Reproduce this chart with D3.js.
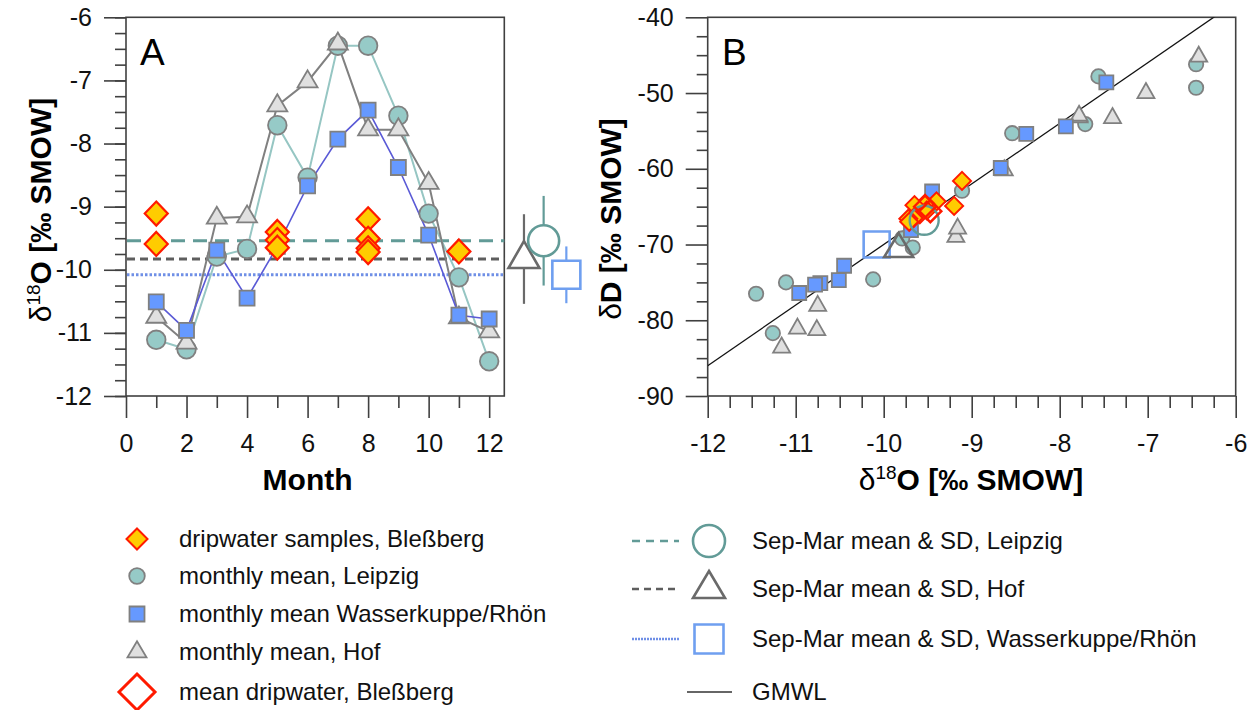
<!DOCTYPE html>
<html><head><meta charset="utf-8">
<script src="https://cdnjs.cloudflare.com/ajax/libs/d3/7.8.5/d3.min.js"></script>
<style>body{margin:0;background:#fff;} svg{display:block;font-family:"Liberation Sans",Arial,sans-serif;}</style>
</head><body><svg id="c" width="1258" height="710"></svg>
<script>
// ---------- data ----------
const months = [1,2,3,4,5,6,7,8,9,10,11,12];
const leipzigO = [-11.11,-11.26,-9.79,-9.67,-7.71,-8.54,-6.45,-6.45,-7.56,-9.11,-10.12,-11.45];
const leipzigD = [-75.0,-81.7,-69.2,-70.4,-54.1,-55.3,-46.2,-49.3,-47.8,-62.9,-74.6,-76.5];
const hofO = [-10.75,-11.16,-9.18,-9.16,-7.40,-7.02,-6.42,-7.78,-7.78,-8.63,-10.76,-10.98];
const hofD = [-78.1,-83.6,-69.0,-67.9,-53.3,-50.0,-45.2,-53.2,-53.0,-60.2,-81.3,-81.1];
const wasserO = [-10.51,-10.96,-9.69,-10.45,-9.63,-8.67,-7.93,-7.47,-8.38,-9.45,-10.72,-10.78];
const wasserD = [-74.7,-76.4,-68.1,-72.8,-65.7,-59.9,-54.4,-48.6,-55.4,-63.0,-75.1,-75.3];
const dripMonth = [1,1,5,5,5,8,8,8,8,11];
const dripO = [-9.11,-9.59,-9.40,-9.53,-9.65,-9.20,-9.51,-9.66,-9.72,-9.71];
const dripD = [-61.6,-66.0,-64.3,-64.6,-64.8,-64.9,-65.5,-66.5,-66.6,-67.0];
const meanDripO = [-9.53,-9.47];
const meanDripD = [-65.0,-65.6];
const sepMarStations = ["Leipzig","Hof","Wasserkuppe/Rhön"];
const sepMarMeanO = [-9.54,-9.83,-10.08];
const sepMarSdO = [0.71,0.71,0.45];
const sepMarMeanD = [-66.8,-70.6,-70.0];
const gmwlO = [-12,-6];             // GMWL: δD = 8·δ18O + 10
const gmwlD = gmwlO.map(o => 8*o + 10);
const monthTicks = [0,2,4,6,8,10,12];
const oTicksA = [-12,-11,-10,-9,-8,-7,-6];
const oTicksB = [-12,-11,-10,-9,-8,-7,-6];
const dTicksB = [-90,-80,-70,-60,-50,-40];
const legendLeft = ["dripwater samples, Bleßberg","monthly mean, Leipzig","monthly mean Wasserkuppe/Rhön","monthly mean, Hof","mean dripwater, Bleßberg"];
const legendRight = ["Sep-Mar mean & SD, Leipzig","Sep-Mar mean & SD, Hof","Sep-Mar mean & SD, Wasserkuppe/Rhön","GMWL"];

// ---------- styles ----------
const C = {
  leipFill:"#96cac7", leipLine:"#96c6c3", leipMean:"#629b97",
  hofFill:"#e0e0e0", hofLine:"#808080", hofMean:"#5e5e5e",
  wasFill:"#6699ff", wasLine:"#5a5ad6", wasMean:"#6f8fe6", wasBig:"#6f9ff0",
  mkStroke:"#808080", dripFill:"#ffcc00", dripStroke:"#ff1a00", axis:"#404040"
};

const svg = d3.select("#c");

function diamondPath(w,h){return `M0,${-h/2}L${w/2},0L0,${h/2}L${-w/2},0Z`;}
function triPath(w,h){return `M0,${-2*h/3}L${w/2},${h/3}L${-w/2},${h/3}Z`;}
function circPath(r){return d3.symbol(d3.symbolCircle, Math.PI*r*r)();}
function sqPath(s){return `M${-s/2},${-s/2}h${s}v${s}h${-s}Z`;}

// ---------- scales ----------
const xA = d3.scaleLinear([0,12.5],[126,504.3]);
const yA = d3.scaleLinear([-12,-6],[396,17.3]);
const xB = d3.scaleLinear([-12,-6],[707.7,1235.7]);
const yB = d3.scaleLinear([-90,-40],[396,17.3]);

function drawAxes(xs, ys, xMajor, xMinor, yMajor, yMinor, xFmt, yFmt){
  const g = svg.append("g");
  const [x0,x1] = xs.range(), [y0,y1] = ys.range();
  // frame
  g.append("rect").attr("x",x0).attr("y",y1).attr("width",x1-x0).attr("height",y0-y1)
    .attr("fill","none").attr("stroke",C.axis).attr("stroke-width",1.6);
  const ax = g.append("g").attr("transform",`translate(0,${y0})`);
  ax.call(d3.axisBottom(xs).tickValues(xMinor).tickSize(12).tickFormat(""));
  ax.call(g2=>g2.select(".domain").remove());
  const ax2 = g.append("g").attr("transform",`translate(0,${y0})`);
  ax2.call(d3.axisBottom(xs).tickValues(xMajor).tickSize(22).tickPadding(16).tickFormat(xFmt));
  ax2.select(".domain").remove();
  const ay = g.append("g").attr("transform",`translate(${x0},0)`);
  ay.call(d3.axisLeft(ys).tickValues(yMinor).tickSize(11).tickFormat(""));
  ay.select(".domain").remove();
  const ay2 = g.append("g").attr("transform",`translate(${x0},0)`);
  ay2.call(d3.axisLeft(ys).tickValues(yMajor).tickSize(22).tickPadding(12).tickFormat(yFmt));
  ay2.select(".domain").remove();
  g.selectAll(".tick line").attr("stroke",C.axis).attr("stroke-width",1.6);
  g.selectAll(".tick text").attr("font-size",25).attr("fill","#111")
    .attr("font-family",'"Liberation Sans",Arial,sans-serif');
  return g;
}
const fmt = d => d3.format("d")(d).replace("−","-");
function range(a,b,s){const r=[];for(let v=a;v<=b+1e-9;v+=s)r.push(+v.toFixed(4));return r;}

// ---------- Panel A ----------
drawAxes(xA, yA, monthTicks, [1,3,5,7,9,11], oTicksA, range(-12,-6,0.25), fmt, fmt);

const pA = svg.append("g");
// mean lines
const meanStyles = [
  {c:C.leipMean, dash:"14,8", w:3},
  {c:C.hofMean, dash:"8,5", w:3},
  {c:C.wasMean, dash:"2.5,2", w:3}
];
sepMarMeanO.forEach((m,i)=>{
  pA.append("line").attr("x1",xA(0)+1).attr("x2",xA(12.5)).attr("y1",yA(m)).attr("y2",yA(m))
    .attr("stroke",meanStyles[i].c).attr("stroke-width",meanStyles[i].w).attr("stroke-dasharray",meanStyles[i].dash);
});
const line = vals => d3.line().x((d,i)=>xA(months[i])).y(d=>yA(d))(vals);
pA.append("path").attr("d",line(leipzigO)).attr("fill","none").attr("stroke",C.leipLine).attr("stroke-width",2);
pA.append("path").attr("d",line(hofO)).attr("fill","none").attr("stroke",C.hofLine).attr("stroke-width",2);
pA.append("path").attr("d",line(wasserO)).attr("fill","none").attr("stroke",C.wasLine).attr("stroke-width",1.6);

pA.selectAll(".lc").data(leipzigO).join("path").attr("d",circPath(9.3))
  .attr("transform",(d,i)=>`translate(${xA(months[i])},${yA(d)})`)
  .attr("fill",C.leipFill).attr("stroke",C.mkStroke).attr("stroke-width",1.8);
pA.selectAll(".ht").data(hofO).join("path").attr("d",triPath(20,17))
  .attr("transform",(d,i)=>`translate(${xA(months[i])},${yA(d)})`)
  .attr("fill",C.hofFill).attr("stroke",C.mkStroke).attr("stroke-width",1.8);
pA.selectAll(".ws").data(wasserO).join("path").attr("d",sqPath(15))
  .attr("transform",(d,i)=>`translate(${xA(months[i])},${yA(d)})`)
  .attr("fill",C.wasFill).attr("stroke",C.mkStroke).attr("stroke-width",1.8);
pA.selectAll(".dd").data(dripO).join("path").attr("d",diamondPath(23,24))
  .attr("transform",(d,i)=>`translate(${xA(dripMonth[i])},${yA(d)})`)
  .attr("fill",C.dripFill).attr("stroke",C.dripStroke).attr("stroke-width",2.2);

// SD markers right of panel A (positions in month-scale units beyond the axis)
const sdX = [13.8, 13.15, 14.55];
const sdCol = [C.leipMean, "#6a6a6a", C.wasBig];
[1,0,2].forEach(i=>{
  const x = xA(sdX[i]);
  pA.append("line").attr("x1",x).attr("x2",x)
    .attr("y1",yA(sepMarMeanO[i]+sepMarSdO[i])).attr("y2",yA(sepMarMeanO[i]-sepMarSdO[i]))
    .attr("stroke",sdCol[i]).attr("stroke-width",2.2);
  const shape = i===0 ? circPath(15.5) : i===1 ? triPath(31,27) : sqPath(28);
  pA.append("path").attr("d",shape).attr("transform",`translate(${x},${yA(sepMarMeanO[i])})`)
    .attr("fill","#fff").attr("stroke",sdCol[i]).attr("stroke-width",2.6);
});
svg.append("text").attr("x",140).attr("y",65).attr("font-size",37).text("A");

// ---------- Panel B ----------
drawAxes(xB, yB, oTicksB, range(-12,-6,0.25).filter(v=>!Number.isInteger(v)), dTicksB,
  range(-90,-40,2.5).filter(v=>v%10!==0), fmt, fmt);
const pB = svg.append("g");
pB.append("path").attr("d",d3.line().x(d=>xB(d[0])).y(d=>yB(d[1]))(gmwlO.map((o,i)=>[o,gmwlD[i]])))
  .attr("stroke","#111").attr("stroke-width",1.3).attr("fill","none");
const clipped = svg.append("clipPath").attr("id","clipB").append("rect")
  .attr("x",707.7).attr("y",17.3).attr("width",528).attr("height",378.7);
pB.select("path").attr("clip-path","url(#clipB)");

pB.selectAll(".lc").data(leipzigO).join("path").attr("d",circPath(7.2))
  .attr("transform",(d,i)=>`translate(${xB(d)},${yB(leipzigD[i])})`)
  .attr("fill",C.leipFill).attr("stroke",C.mkStroke).attr("stroke-width",1.8);
pB.selectAll(".ht").data(hofO).join("path").attr("d",triPath(17,15))
  .attr("transform",(d,i)=>`translate(${xB(d)},${yB(hofD[i])})`)
  .attr("fill",C.hofFill).attr("stroke",C.mkStroke).attr("stroke-width",1.8);
pB.selectAll(".ws").data(wasserO).join("path").attr("d",sqPath(14))
  .attr("transform",(d,i)=>`translate(${xB(d)},${yB(wasserD[i])})`)
  .attr("fill",C.wasFill).attr("stroke",C.mkStroke).attr("stroke-width",1.8);
// Sep-Mar means in B
[2,1].forEach(i=>{
  const shape = i===1 ? triPath(29,24) : sqPath(26);
  pB.append("path").attr("d",shape).attr("transform",`translate(${xB(sepMarMeanO[i])},${yB(sepMarMeanD[i])})`)
    .attr("fill","none").attr("stroke",sdCol[i]).attr("stroke-width",2.6);
});
pB.selectAll(".dd").data(dripO).join("path").attr("d",diamondPath(18,18))
  .attr("transform",(d,i)=>`translate(${xB(d)},${yB(dripD[i])})`)
  .attr("fill",C.dripFill).attr("stroke",C.dripStroke).attr("stroke-width",2);
pB.append("path").attr("d",circPath(14.5)).attr("transform",`translate(${xB(sepMarMeanO[0])},${yB(sepMarMeanD[0])})`)
  .attr("fill","none").attr("stroke",C.leipMean).attr("stroke-width",2.4);
pB.selectAll(".md").data(meanDripO).join("path").attr("d",diamondPath(22,22))
  .attr("transform",(d,i)=>`translate(${xB(d)},${yB(meanDripD[i])})`)
  .attr("fill","none").attr("stroke",C.dripStroke).attr("stroke-width",2.4);
svg.append("text").attr("x",722).attr("y",65).attr("font-size",37).text("B");

// ---------- axis titles ----------
svg.append("text").attr("x",xA(6)).attr("y",490).attr("text-anchor","middle")
  .attr("font-size",30).attr("font-weight","bold").text("Month");
function o18Title(sel){
  sel.append("tspan").attr("font-weight","normal").text("δ");
  sel.append("tspan").attr("font-weight","normal").attr("font-size",19).attr("dy",-11).text("18");
  sel.append("tspan").attr("font-weight","bold").attr("dy",11).text("O [‰ SMOW]");
}
svg.append("text").attr("x",971).attr("y",490).attr("text-anchor","middle").attr("font-size",30).call(o18Title);
svg.append("text").attr("transform","translate(51,210) rotate(-90)").attr("text-anchor","middle")
  .attr("font-size",30).call(o18Title);
const tD = svg.append("text").attr("transform","translate(621,219) rotate(-90)").attr("text-anchor","middle").attr("font-size",30);
tD.append("tspan").attr("font-weight","normal").text("δ");
tD.append("tspan").attr("font-weight","bold").text("D [‰ SMOW]");

// ---------- legends ----------
const lg = svg.append("g").attr("font-size",24).attr("fill","#111");
const lRows = [539,576,614,652,692];
const lShapes = [
  {d:diamondPath(21,21), f:C.dripFill, s:C.dripStroke, w:2},
  {d:circPath(7.8), f:C.leipFill, s:C.mkStroke, w:1.8},
  {d:sqPath(15), f:C.wasFill, s:C.mkStroke, w:1.8},
  {d:triPath(19,16), f:C.hofFill, s:C.mkStroke, w:1.8},
  {d:diamondPath(36,36), f:"none", s:C.dripStroke, w:3}
];
legendLeft.forEach((t,i)=>{
  lg.append("path").attr("d",lShapes[i].d).attr("transform",`translate(137,${lRows[i]})`)
    .attr("fill",lShapes[i].f).attr("stroke",lShapes[i].s).attr("stroke-width",lShapes[i].w);
  lg.append("text").attr("x",179).attr("y",lRows[i]).attr("dy","0.35em").text(t);
});
const rRows = [541,589,639,692];
legendRight.forEach((t,i)=>{
  if(i<3){
    lg.append("line").attr("x1",632).attr("x2",679).attr("y1",rRows[i]).attr("y2",rRows[i])
      .attr("stroke",meanStyles[i].c).attr("stroke-width",i===2?2.5:2.5)
      .attr("stroke-dasharray", i===0?"8,6": i===1?"7,5":"2,1");
    const shape = i===0 ? circPath(16) : i===1 ? triPath(32,27) : sqPath(29);
    lg.append("path").attr("d",shape).attr("transform",`translate(709,${rRows[i]})`)
      .attr("fill","#fff").attr("stroke",sdCol[i]).attr("stroke-width",2.6);
  } else {
    lg.append("line").attr("x1",687).attr("x2",732).attr("y1",rRows[i]).attr("y2",rRows[i])
      .attr("stroke","#333").attr("stroke-width",1.6);
  }
  lg.append("text").attr("x",752).attr("y",rRows[i]).attr("dy","0.35em").text(t);
});
</script></body></html>
